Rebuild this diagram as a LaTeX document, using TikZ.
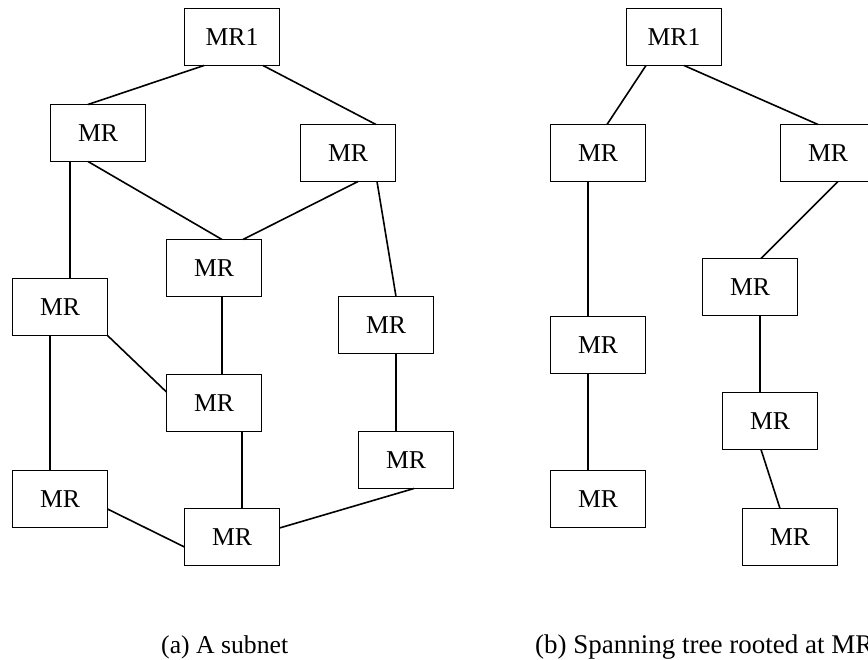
\documentclass[tikz,border=0pt]{standalone}
\usepackage{fontspec}
\setmainfont{Liberation Serif}
\begin{document}
\begin{tikzpicture}[x=1pt,y=-1pt,
  mrbox/.style={draw,line width=1.6pt,minimum width=95pt,minimum height=57pt,inner sep=0pt,outer sep=0pt,font=\fontsize{25.7}{30}\selectfont},
  link/.style={line width=1.6pt},
  captext/.style={anchor=base west,inner sep=0pt,font=\fontsize{25.7}{30}\selectfont}]
\clip (0,0) rectangle (868,660);
% (a) subnet
\node[mrbox] (a1) at (232,37) {MR1};
\node[mrbox] (aA) at (98,133) {MR};
\node[mrbox] (aB) at (348,153) {MR};
\node[mrbox] (aC) at (214,268) {MR};
\node[mrbox] (aD) at (60,307) {MR};
\node[mrbox] (aE) at (386,325) {MR};
\node[mrbox] (aF) at (214,403) {MR};
\node[mrbox] (aG) at (406,460) {MR};
\node[mrbox] (aH) at (60,499) {MR};
\node[mrbox] (aI) at (232,537) {MR};
\draw[link] ([xshift=-28pt]a1.south) -- ([xshift=-10pt]aA.north);
\draw[link] ([xshift=31pt]a1.south) -- ([xshift=28pt]aB.north);
\draw[link] ([xshift=-28pt]aA.south) -- ([xshift=10pt]aD.north);
\draw[link] ([xshift=-10pt]aA.south) -- ([xshift=8pt]aC.north);
\draw[link] ([xshift=10pt]aB.south) -- ([xshift=29pt]aC.north);
\draw[link] ([xshift=29pt]aB.south) -- ([xshift=10pt]aE.north);
\draw[link] ([xshift=8pt]aC.south) -- ([xshift=8pt]aF.north);
\draw[link] (aD.south east) -- ([yshift=11pt]aF.west);
\draw[link] ([xshift=-10pt]aD.south) -- ([xshift=-10pt]aH.north);
\draw[link] ([xshift=28pt]aF.south) -- ([xshift=10pt]aI.north);
\draw[link] ([xshift=10pt]aE.south) -- ([xshift=-10pt]aG.north);
\draw[link] ([yshift=-10pt]aH.east) -- ([yshift=-10pt]aI.west);
\draw[link] ([yshift=9pt]aI.east) -- ([xshift=8pt]aG.south);
% (b) spanning tree
\node[mrbox] (b1) at (674,37) {MR1};
\node[mrbox] (bA) at (598,153) {MR};
\node[mrbox] (bB) at (828,153) {MR};
\node[mrbox] (bC) at (750,287) {MR};
\node[mrbox] (bD) at (598,345) {MR};
\node[mrbox] (bE) at (770,421) {MR};
\node[mrbox] (bF) at (598,499) {MR};
\node[mrbox] (bG) at (790,537) {MR};
\draw[link] ([xshift=-28pt]b1.south) -- ([xshift=9pt]bA.north);
\draw[link] ([xshift=10pt]b1.south) -- ([xshift=-10pt]bB.north);
\draw[link] ([xshift=-10pt]bA.south) -- ([xshift=-10pt]bD.north);
\draw[link] ([xshift=-10pt]bD.south) -- ([xshift=-10pt]bF.north);
\draw[link] ([xshift=10pt]bB.south) -- ([xshift=11pt]bC.north);
\draw[link] ([xshift=10pt]bC.south) -- ([xshift=-10pt]bE.north);
\draw[link] ([xshift=-9pt]bE.south) -- ([xshift=-10pt]bG.north);
% captions
\node[captext] (capa) at (161,653) {(a) A subnet};
\node[captext,font=\fontsize{27}{32}\selectfont] (capb) at (535,653) {(b) Spanning tree rooted at MR1};
\end{tikzpicture}
\end{document}
